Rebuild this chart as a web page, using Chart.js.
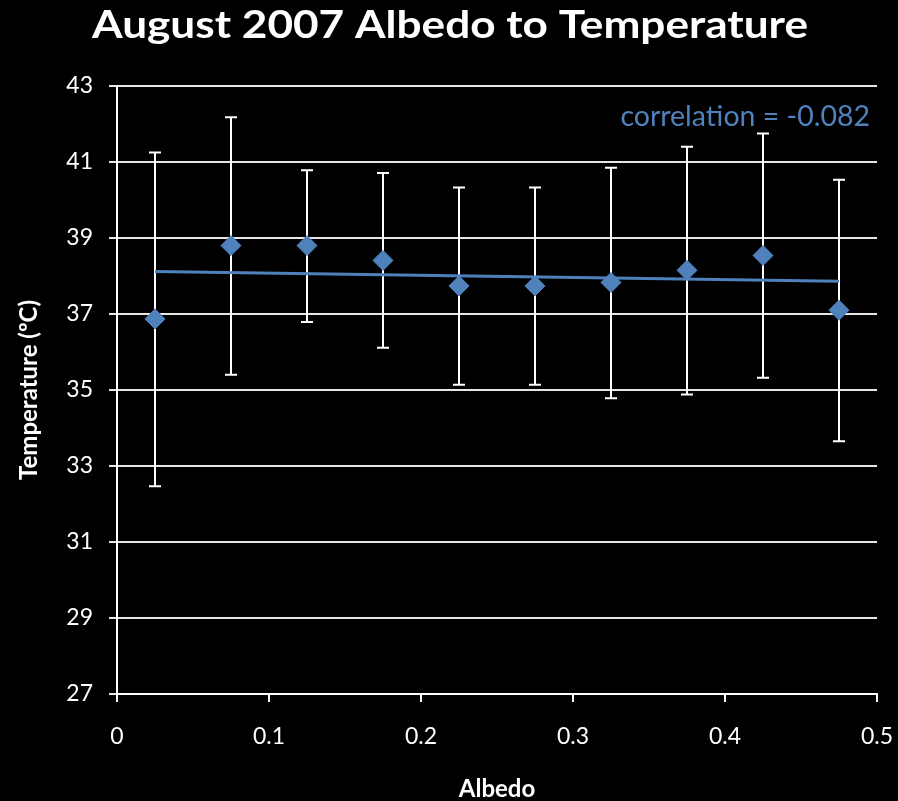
<!DOCTYPE html>
<html>
<head>
<meta charset="utf-8">
<script src="https://cdn.jsdelivr.net/npm/chart.js@4.4.1/dist/chart.umd.min.js"></script>
<style>
  html, body { margin: 0; padding: 0; background: #000; }
  canvas { display: block; }
</style>
</head>
<body>
<canvas id="c" width="898" height="801"></canvas>
<script>
// ---- data ----
const albedo    = [0.025, 0.075, 0.125, 0.175, 0.225, 0.275, 0.325, 0.375, 0.425, 0.475];
const meanTemp  = [36.87, 38.80, 38.80, 38.41, 37.74, 37.74, 37.83, 38.15, 38.54, 37.10];
const upperTemp = [41.25, 42.18, 40.78, 40.71, 40.33, 40.33, 40.85, 41.40, 41.75, 40.53];
const lowerTemp = [32.47, 35.40, 36.79, 36.11, 35.14, 35.14, 34.78, 34.88, 35.32, 33.65];
const trendX    = [0.025, 0.475];
const trendY    = [38.12, 37.86];
const titleText = "August 2007 Albedo to Temperature";
const xTitle    = "Albedo";
const yTitle    = "Temperature (\u00BAC)";
const corrText  = "correlation = -0.082";

const BLUE = "#4F81BD";
const FONT = "Lato, 'Open Sans', sans-serif";

const points = albedo.map((x, i) => ({ x: x, y: meanTemp[i] }));
const trend  = trendX.map((x, i) => ({ x: x, y: trendY[i] }));

function fitText(ctx, text, cx, baseline, targetWidth) {
  const w = ctx.measureText(text).width;
  const sx = targetWidth / w;
  ctx.save();
  ctx.translate(cx, baseline);
  ctx.scale(sx, 1);
  ctx.textAlign = "center";
  ctx.fillText(text, 0, 0);
  ctx.restore();
}

const decor = {
  id: "decor",
  beforeDraw(chart) {
    const ctx = chart.ctx;
    ctx.save();
    ctx.fillStyle = "#000";
    ctx.fillRect(0, 0, chart.width, chart.height);
    ctx.restore();
  },
  beforeDatasetsDraw(chart) {
    const ctx = chart.ctx;
    const xs = chart.scales.x, ys = chart.scales.y;
    ctx.save();
    ctx.strokeStyle = "#ffffff";
    ctx.lineWidth = 2;
    albedo.forEach((a, i) => {
      const px = Math.round(xs.getPixelForValue(a));
      const pt = ys.getPixelForValue(upperTemp[i]);
      const pb = ys.getPixelForValue(lowerTemp[i]);
      ctx.beginPath();
      ctx.moveTo(px, pt); ctx.lineTo(px, pb);
      ctx.moveTo(px - 6, pt); ctx.lineTo(px + 6, pt);
      ctx.moveTo(px - 6, pb); ctx.lineTo(px + 6, pb);
      ctx.stroke();
    });
    ctx.restore();
  },
  afterDraw(chart) {
    const ctx = chart.ctx;
    ctx.save();
    ctx.fillStyle = "#ffffff";
    ctx.textBaseline = "alphabetic";
    // title
    ctx.font = "bold 38px " + FONT;
    fitText(ctx, titleText, 450, 38, 716);
    // x title
    ctx.font = "bold 24px " + FONT;
    ctx.textAlign = "center";
    ctx.fillText(xTitle, 497, 797);
    // y title
    ctx.save();
    ctx.translate(37, 390);
    ctx.rotate(-Math.PI / 2);
    ctx.font = "bold 24px " + FONT;
    ctx.textAlign = "center";
    ctx.fillText(yTitle, 0, 0);
    ctx.restore();
    // correlation
    ctx.fillStyle = BLUE;
    ctx.font = "28.5px " + FONT;
    ctx.textAlign = "right";
    ctx.fillText(corrText, 870, 126);
    ctx.restore();
  }
};

new Chart(document.getElementById("c"), {
  type: "scatter",
  data: {
    datasets: [
      {
        type: "line",
        data: trend,
        borderColor: BLUE,
        borderWidth: 3,
        pointRadius: 0,
        fill: false,
        order: 1
      },
      {
        data: points,
        backgroundColor: BLUE,
        borderColor: BLUE,
        pointStyle: "rectRot",
        pointRadius: 10,
        pointHoverRadius: 10,
        order: 0
      }
    ]
  },
  options: {
    responsive: false,
    animation: false,
    events: [],
    layout: { padding: { top: 86, right: 21, left: 0, bottom: 0 } },
    plugins: { legend: { display: false }, tooltip: { enabled: false }, title: { display: false } },
    scales: {
      x: {
        type: "linear",
        min: 0, max: 0.5,
        afterFit(s) { s.height = 107; s.paddingLeft = 0; s.paddingRight = 0; },
        ticks: { stepSize: 0.1, color: "#ffffff", font: { family: FONT, size: 23 }, padding: 21,
                 callback: v => String(Math.round(v * 10) / 10) },
        grid: { drawOnChartArea: false, drawTicks: true, tickLength: 8, color: "#ffffff", lineWidth: 2 },
        border: { display: true, color: "#ffffff", width: 2 }
      },
      y: {
        min: 27, max: 43,
        afterFit(s) { s.width = 117; s.paddingTop = 0; s.paddingBottom = 0; },
        ticks: { stepSize: 2, color: "#ffffff", font: { family: FONT, size: 23 }, padding: 16 },
        grid: { color: "#e6e6e6", lineWidth: 2, drawTicks: true, tickLength: 8 },
        border: { display: true, color: "#ffffff", width: 2 }
      }
    }
  },
  plugins: [decor]
});
</script>
</body>
</html>
